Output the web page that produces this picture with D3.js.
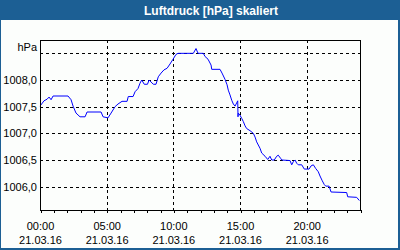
<!DOCTYPE html>
<html>
<head>
<meta charset="utf-8">
<script src="https://cdn.jsdelivr.net/npm/d3@7"></script>
<style>
	body { margin: 0; background: #fcfefc; }
	svg { display: block; }
	.tick-label { font-family: "Liberation Sans", Arial, sans-serif; font-size: 11px; fill: #000; }
	.title { font-family: "Liberation Sans", Arial, sans-serif; font-size: 12px; font-weight: bold; fill: #fff; }
</style>
</head>
<body>
<svg id="chart"></svg>
<script>
// hours since 21.03.16 00:00
const hours = [0, 0.3, 0.53, 0.68, 0.83, 0.98, 2.1, 2.33, 2.48, 2.7, 3.0, 3.38, 3.53, 4.58, 4.73, 5.1, 5.33,
	5.63, 5.85, 6.15, 6.53, 6.62, 6.98, 7.13, 7.35, 7.5, 7.63, 7.82, 8.06, 8.18, 8.5, 8.7, 8.87, 9.08, 9.3,
	9.53, 9.75, 9.98, 10.2, 10.35, 11.5, 11.7, 11.85, 12.25, 12.38, 12.6, 12.83, 12.88, 13.5, 13.65, 13.88,
	14.03, 14.12, 14.25, 14.38, 14.5, 14.63, 14.75, 14.83, 14.85, 14.87, 15.0, 15.13, 15.25, 15.38, 15.5,
	15.75, 16.0, 16.13, 16.25, 16.5, 16.63, 16.88, 17.08, 17.25, 17.38, 17.57, 17.75, 17.87, 18.05, 18.13,
	18.75, 18.88, 19.0, 19.13, 19.25, 19.37, 19.63, 19.82, 20.18, 20.33, 20.5, 20.68, 20.87, 21.0, 21.17,
	21.32, 21.43, 21.68, 21.83, 23.0, 23.08, 23.75, 23.95];
const pressure = [1007.51, 1007.61, 1007.64, 1007.68, 1007.63, 1007.70, 1007.70, 1007.63, 1007.51, 1007.38,
	1007.31, 1007.31, 1007.40, 1007.40, 1007.31, 1007.29, 1007.38, 1007.50, 1007.55, 1007.60, 1007.60,
	1007.69, 1007.69, 1007.78, 1007.84, 1007.94, 1008.00, 1007.92, 1007.92, 1008.00, 1007.92, 1007.92,
	1008.06, 1008.13, 1008.19, 1008.22, 1008.30, 1008.39, 1008.48, 1008.50, 1008.50, 1008.59, 1008.50,
	1008.50, 1008.44, 1008.39, 1008.28, 1008.20, 1008.20, 1008.13, 1008.01, 1007.91, 1007.81, 1007.72,
	1007.62, 1007.55, 1007.51, 1007.57, 1007.61, 1007.31, 1007.38, 1007.34, 1007.28, 1007.22, 1007.14,
	1007.09, 1007.05, 1007.00, 1006.93, 1006.84, 1006.72, 1006.63, 1006.57, 1006.51, 1006.57, 1006.50,
	1006.50, 1006.57, 1006.59, 1006.53, 1006.50, 1006.49, 1006.41, 1006.47, 1006.50, 1006.44, 1006.41,
	1006.41, 1006.33, 1006.33, 1006.39, 1006.41, 1006.34, 1006.28, 1006.20, 1006.11, 1006.04, 1006.01,
	1006.01, 1005.90, 1005.89, 1005.81, 1005.80, 1005.74];

const xTicks = [0, 5, 10, 15, 20];
const xTickLabels = ["00:00", "05:00", "10:00", "15:00", "20:00"];
const dateLabel = "21.03.16";
const yGrid = [1006.0, 1006.5, 1007.0, 1007.5, 1008.0, 1008.5];
const yTicks = [1006.0, 1006.5, 1007.0, 1007.5, 1008.0];
const yTickLabels = ["1006,0", "1006,5", "1007,0", "1007,5", "1008,0"];
const unitLabel = "hPa";
const title = "Luftdruck [hPa] skaliert";

const viewWidth = 400;
const viewHeight = 250;
const margin = { top: 40, right: 40, bottom: 40, left: 40 };
const width = viewWidth - margin.left - margin.right;
const height = viewHeight - margin.top - margin.bottom;
const blue = "#1c5f94";

const root = d3.select("#chart")
	.attr("width", viewWidth)
	.attr("height", viewHeight);

// frame + title bar
root.append("rect")
	.attr("x", 0).attr("y", 0)
	.attr("width", viewWidth).attr("height", 20)
	.attr("fill", blue);
root.append("rect").attr("x", 0).attr("y", 20).attr("width", 1).attr("height", viewHeight - 20).attr("fill", blue);
root.append("rect").attr("x", viewWidth - 2).attr("y", 20).attr("width", 2).attr("height", viewHeight - 20).attr("fill", blue);
root.append("rect").attr("x", 0).attr("y", viewHeight - 2).attr("width", viewWidth).attr("height", 2).attr("fill", blue);

root.append("text")
	.attr("class", "title")
	.attr("x", 211)
	.attr("y", 14.5)
	.attr("text-anchor", "middle")
	.text(title);

const svg = root.append("g")
	.attr("transform", "translate(" + margin.left + "," + margin.top + ")");

const x = d3.scaleLinear().domain([0, 24]).range([0, width]);
const y = d3.scaleLinear().domain([1005.5625, 1008.75]).range([height, 0]);
const px = v => Math.round(v) + 0.5;

// grid
svg.selectAll(".hgrid")
	.data(yGrid)
	.enter().append("line")
	.attr("x1", 0).attr("x2", width)
	.attr("y1", d => px(y(d))).attr("y2", d => px(y(d)))
	.attr("stroke", "#000")
	.attr("stroke-dasharray", "3,3")
	.attr("shape-rendering", "crispEdges");

svg.selectAll(".vgrid")
	.data(xTicks.slice(1))
	.enter().append("line")
	.attr("y1", 0).attr("y2", height)
	.attr("x1", d => px(x(d))).attr("x2", d => px(x(d)))
	.attr("stroke", "#000")
	.attr("stroke-dasharray", "3,3")
	.attr("shape-rendering", "crispEdges");

// data line
svg.append("path")
	.datum(hours.map((h, i) => [h, pressure[i]]))
	.attr("fill", "none")
	.attr("stroke", "#0000ff")
	.attr("stroke-width", 1)
	.attr("d", d3.line()
		.x(d => x(d[0]))
		.y(d => y(d[1]))
	);

// plot border
svg.append("rect")
	.attr("x", 0.5).attr("y", 0.5)
	.attr("width", width).attr("height", height - 0.5)
	.attr("fill", "none")
	.attr("stroke", "#000")
	.attr("shape-rendering", "crispEdges");

// hourly minor ticks
svg.append("g")
	.attr("transform", "translate(0.5," + height + ")")
	.call(d3.axisBottom(x).tickValues(d3.range(0, 25)).tickSize(3).tickFormat(""))
	.call(g => g.select(".domain").remove())
	.call(g => g.selectAll("line").attr("shape-rendering", "crispEdges"));

// x labels
const xl = svg.selectAll(".xlabel")
	.data(xTicks)
	.enter().append("text")
	.attr("class", "tick-label")
	.attr("text-anchor", "middle")
	.attr("x", d => x(d) + 0.5);
xl.append("tspan").attr("y", height + 19.5).text((d, i) => xTickLabels[i]);
xl.append("tspan").attr("x", d => x(d) + 0.5).attr("y", height + 34).text(dateLabel);

// y labels
svg.selectAll(".ylabel")
	.data(yTicks)
	.enter().append("text")
	.attr("class", "tick-label")
	.attr("text-anchor", "end")
	.attr("x", -3)
	.attr("y", d => y(d))
	.attr("dy", "0.35em")
	.text((d, i) => yTickLabels[i]);

svg.append("text")
	.attr("class", "tick-label")
	.attr("text-anchor", "end")
	.attr("x", -3)
	.attr("y", 7)
	.attr("dy", "0.35em")
	.text(unitLabel);
</script>
</body>
</html>
